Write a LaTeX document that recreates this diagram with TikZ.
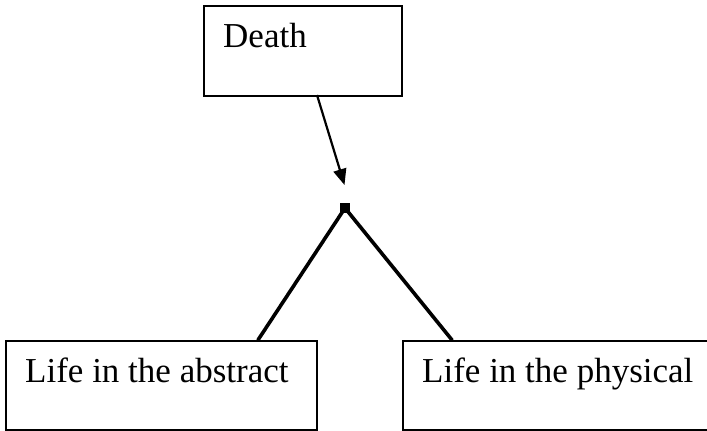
\documentclass[tikz,border=0pt]{standalone}
\usepackage{fontspec}
\setmainfont{Liberation Serif}
\usetikzlibrary{arrows.meta}
\begin{document}
\begin{tikzpicture}[x=1pt,y=-1pt,
  boxnode/.style={draw=black,line width=1.6pt,fill=white,inner sep=0pt,anchor=north west},
  label/.style={anchor=base west,inner sep=0pt,font=\fontsize{35}{42}\selectfont},
  link/.style={line width=3.6pt,line cap=round},
  arrowline/.style={line width=2.2pt,-{Triangle[length=16pt,width=13pt]}}]
\useasboundingbox (0,0) rectangle (707,431);
\clip (0,0) rectangle (707,431);
\fill[white] (0,0) rectangle (707,431);
\node[boxnode,minimum width=198pt,minimum height=90pt] (death) at (203,5) {};
\node[boxnode,minimum width=311pt,minimum height=89pt] (abstract) at (5,340) {};
\node[boxnode,minimum width=320pt,minimum height=89pt] (physical) at (402,340) {};
\node[label] (tdeath) at (223,47) {Death};
\node[label] (tabstract) at (25,382) {Life in the abstract};
\node[label] (tphysical) at (422,382) {Life in the physical};
\node[fill=black,minimum size=10pt,inner sep=0pt] (junc) at (345,208) {};
\coordinate (a0) at (317,95);
\coordinate (tip) at (344.5,185);
\coordinate (la) at (258,340);
\coordinate (lp) at (452,340);
\draw[arrowline] (a0) -- (tip);
\draw[link] (junc.center) -- (la);
\draw[link] (junc.center) -- (lp);
\end{tikzpicture}
\end{document}
